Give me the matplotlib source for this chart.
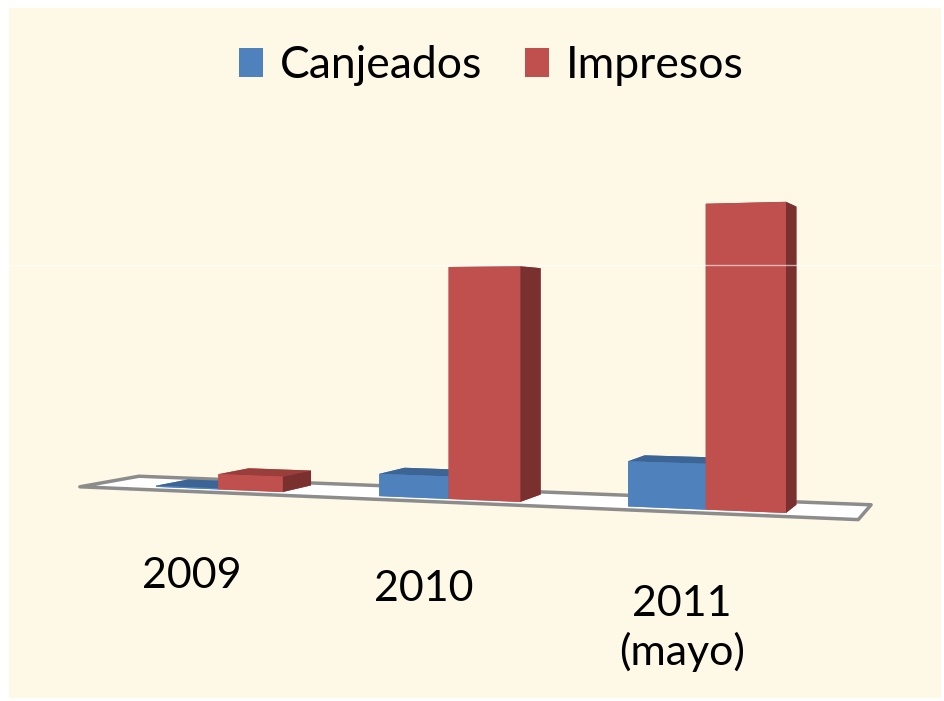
import matplotlib

matplotlib.use("Agg")
import matplotlib.pyplot as plt
from matplotlib.lines import Line2D
from matplotlib.patches import Patch, Rectangle
from mpl_toolkits.mplot3d.art3d import Poly3DCollection

# data (relative units, no axis shown)
categories = ["2009", "2010", "2011\n(mayo)"]
series = ["Canjeados", "Impresos"]
canjeados = [200, 3800, 7300]
impresos = [2700, 39000, 48600]

FONT = ["Lato", "DejaVu Sans"]
BG = "#FEF8E6"
FRONT = ["#4F81BD", "#C0504D"]
TOP = ["#3C6494", "#9A3E3C"]
SIDE = ["#2F4E74", "#7A302F"]

BAR_W = 0.29
BAR_D = 0.3
UNIT = 42900  # value that equals one category step in height
EYE = 30800  # camera height, in value units

fig = plt.figure(figsize=(9.45, 7.01), dpi=100)
fig.patch.set_facecolor("white")
fig.add_artist(Rectangle((0.009, 0.004), 0.987, 0.985, transform=fig.transFigure,
                         facecolor=BG, edgecolor="none", zorder=0))

# square 3d axes, its centre is where the camera looks
ax = fig.add_axes([-0.029, 0.036, 0.742, 1.0], projection="3d")
ax.set_facecolor((0, 0, 0, 0))
ax.set_axis_off()
ax.computed_zorder = False
ax.set_proj_type("persp", focal_length=0.458)
ax.view_init(elev=0, azim=-68)

ax.set_xlim(0.51 - 1.5, 0.51 + 1.5)
ax.set_ylim(-0.5, 0.5)
ax.set_zlim(0, 2 * EYE)
ax.set_box_aspect((3.0, 1.0, 2 * EYE / UNIT), zoom=1.195)

fx0, fx1 = -0.6, len(categories) - 0.45
fy0, fy1 = -0.1, BAR_D + 0.12
floor = Poly3DCollection([[(fx0, fy0, 0), (fx1, fy0, 0), (fx1, fy1, 0), (fx0, fy1, 0)]],
                         facecolor="white", edgecolor="#8C8C8C", linewidth=2.5, zorder=1)
ax.add_collection3d(floor)
floor.set_clip_on(False)

xs, ys, zs, dxs, dys, dzs, cols = [], [], [], [], [], [], []
for i in range(len(categories)):
    for j, vals in enumerate([canjeados, impresos]):
        xs.append(i - BAR_W + j * BAR_W)
        ys.append(0)
        zs.append(0)
        dxs.append(BAR_W)
        dys.append(BAR_D)
        dzs.append(vals[i])
        # face order: -z, +z, -y, +y, -x, +x
        cols += [FRONT[j], TOP[j], FRONT[j], FRONT[j], FRONT[j], SIDE[j]]
bars = ax.bar3d(xs, ys, zs, dxs, dys, dzs, color=cols, shade=False, zorder=2)
bars.set_clip_on(False)

for i, label in enumerate(categories):
    t = ax.text(i - 0.07, fy0, -0.27 * UNIT, label, ha="center", va="top",
                fontsize=31, family=FONT, zorder=3, linespacing=1.25)
    t.set_clip_on(False)

fig.add_artist(Line2D([0.01, 0.996], [1 - 265 / 701] * 2, transform=fig.transFigure,
                      color="white", linewidth=1, alpha=0.6, zorder=10))

handles = [Patch(facecolor=c, edgecolor="none") for c in FRONT]
fig.legend(handles, series, loc="upper center", bbox_to_anchor=(0.52, 0.993), ncol=2,
           frameon=False, prop={"family": FONT, "size": 32}, handlelength=0.54,
           handleheight=0.63, handletextpad=0.38, columnspacing=0.97)

fig.savefig("out.png", dpi=100, facecolor=fig.get_facecolor())
